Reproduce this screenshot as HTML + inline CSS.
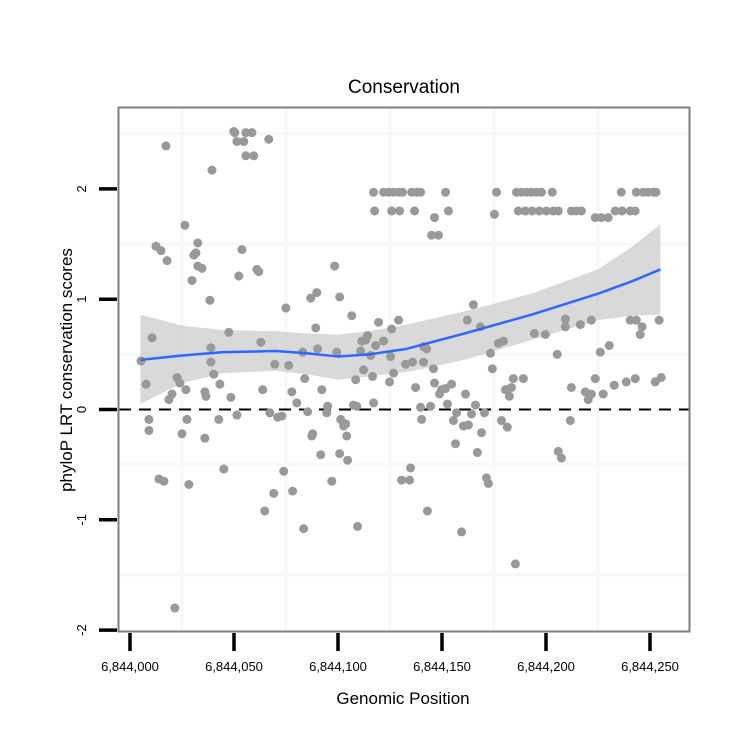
<!DOCTYPE html>
<html><head><meta charset="utf-8"><style>
body{margin:0;background:#fff;}
svg{display:block;font-family:"Liberation Sans",sans-serif;}
</style></head><body>
<svg id="chart" width="750" height="750">
<rect x="0" y="0" width="750" height="750" fill="#fff"/>
<g id="grid"></g>
<g id="band"></g>
<g id="zero"></g>
<g id="pts"></g>
<g id="smooth"></g>
<rect x="118.5" y="107.5" width="571" height="524" fill="none" stroke="#7f7f7f" stroke-width="2"/>
<g id="axes"></g>
<text x="404" y="93" font-size="19" text-anchor="middle">Conservation</text>
<text x="403" y="704" font-size="17" text-anchor="middle">Genomic Position</text>
<text transform="translate(72,370) rotate(-90)" font-size="17" text-anchor="middle">phyloP LRT conservation scores</text>
</svg>
<script>
const xTicks=[0,50,100,150,200,250];
const xTickLabels=["6,844,000","6,844,050","6,844,100","6,844,150","6,844,200","6,844,250"];
const yTicks=[2,1,0,-1,-2];
const yTickLabels=["2","1","0","-1","-2"];
const ptPos=[5.3,7.7,9.1,9.1,10.6,12.5,14.9,13.9,16.3,17.3,17.8,18.7,20.2,21.6,22.6,24.0,25.0,26.4,26.9,27.4,28.3,29.8,30.7,31.7,32.6,32.6,34.6,36.0,36.5,36.0,38.4,38.9,39.4,38.9,40.3,42.7,43.2,45.1,47.5,48.5,49.9,51.4,51.4,52.3,53.8,50.4,55.7,58.6,54.7,55.7,59.5,66.7,61.0,61.9,62.9,63.8,64.8,67.2,69.1,69.6,71.0,73.0,73.9,74.9,76.3,77.8,83.5,78.2,80.2,83.0,84.0,85.4,86.9,87.4,89.8,87.8,89.3,90.2,91.7,92.2,94.6,95.0,97.0,98.4,99.4,100.8,100.8,101.3,102.7,103.7,104.2,104.6,106.6,107.5,108.5,109.0,109.4,110.9,111.4,112.3,113.3,114.2,115.7,116.6,117.1,118.1,119.5,121.9,124.8,125.3,125.8,126.7,
144.5,140.2,149.8,154.6,161.3,157.0,166.1,164.2,170.4,160.3,162.7,169.0,167.0,178.6,181.4,180.5,183.4,182.4,184.3,189.1,174.2,173.3,177.1,179.5,165.1,162.2,168.5,194.4,199.7,205.4,209.3,209.3,216.5,221.8,226.1,230.4,212.2,211.7,223.7,218.9,221.8,220.3,227.5,232.8,238.6,242.9,252.5,255.4,240.5,243.4,246.2,245.3,254.4,205.9,207.4,171.4,172.3,143.0,159.4,185.3,134.9,130.6,134.4,132.5,141.1,129.1,135.8,137.3,139.7,141.1,142.6,146.4,145.9,148.8,151.7,152.6,155.5,156.5,
117.1,121.9,124.3,126.7,129.1,131.0,135.4,137.8,139.7,151.7,176.2,185.8,188.2,190.6,193.0,195.4,197.8,203.0,236.2,243.4,246.7,249.1,251.5,252.9,
117.6,125.8,129.6,136.8,153.1,186.7,190.1,193.4,196.8,200.2,203.5,205.9,212.2,214.6,217.0,233.3,236.6,240.5,242.9,
146.4,175.2,223.7,226.6,229.9,145.0,148.3];
const ptVal=[.44,.23,-.19,-.09,.65,1.48,1.44,-.63,-.65,2.39,1.35,.09,.14,-1.80,.29,.24,-.22,1.67,.18,-.09,-.68,1.17,1.40,1.42,1.51,1.30,1.28,.16,.12,-.26,.99,.56,2.17,.43,.32,-.09,.23,-.54,.70,.11,2.52,2.43,-.05,1.21,1.45,2.51,2.51,2.51,2.43,2.30,2.30,2.45,1.27,1.25,.61,.18,-.92,-.03,-.76,.41,-.07,-.06,-.56,.92,.40,.16,-1.08,-.74,.06,.52,.28,-.02,1.01,-.24,1.06,-.22,.74,.55,-.41,.18,-.03,.03,-.65,1.30,.52,1.02,-.40,-.09,-.15,-.13,-.24,-.46,.85,.04,.27,.03,-1.06,.53,.62,.36,.63,.67,.49,.30,.06,.58,.79,.62,.25,.48,.73,.33,
.03,-.09,.18,.23,.14,-.03,.04,-.04,-.03,-.15,-.14,-.21,-.39,-.10,-.16,.18,.20,.12,.28,.28,.37,.51,.60,.62,.95,.81,.75,.69,.68,.50,.82,.75,.77,.81,.52,.58,.20,-.10,.28,.16,.14,.09,.14,.22,.25,.28,.25,.29,.81,.81,.75,.68,.81,-.38,-.44,-.62,-.67,-.92,-1.11,-1.40,-.53,-.64,-.64,.41,.57,.81,.43,.20,.02,.43,.55,.24,.37,.14,.19,.05,-.10,-.31,
1.97,1.97,1.97,1.97,1.97,1.97,1.97,1.97,1.97,1.97,1.97,1.97,1.97,1.97,1.97,1.97,1.97,1.97,1.97,1.97,1.97,1.97,1.97,1.97,
1.80,1.80,1.80,1.80,1.80,1.80,1.80,1.80,1.80,1.80,1.80,1.80,1.80,1.80,1.80,1.80,1.80,1.80,1.80,
1.74,1.77,1.74,1.74,1.74,1.58,1.58];
const fitPos=[5,25,45,70,85,100,115,133,161,193,225,241,255];
const fitMid=[.45,.49,.52,.53,.51,.48,.50,.55,.69,.86,1.05,1.16,1.27];
const fitUpper=[.86,.76,.72,.71,.69,.68,.71,.77,.89,1.05,1.27,1.47,1.68];
const fitLower=[.05,.24,.33,.35,.32,.27,.30,.34,.45,.63,.81,.85,.86];

const NS="http://www.w3.org/2000/svg";
const X=p=>130+p*2.08;
const Y=v=>409.5-v*110.3;
function mk(tag,attrs,parent){const e=document.createElementNS(NS,tag);for(const k in attrs)e.setAttribute(k,attrs[k]);parent.appendChild(e);return e;}
const grid=document.getElementById('grid');
[-1.5,-0.5,0.5,1.5,2.5].forEach(v=>{const l=mk('line',{x1:119,x2:689,y1:Y(v),y2:Y(v),stroke:'#f7f7f7','stroke-width':3},grid);

});
[25,75,125,175,225].forEach(p=>{const l=mk('line',{x1:X(p),x2:X(p),y1:108,y2:631,stroke:'#f7f7f7','stroke-width':3},grid);

});
let d='M'+fitPos.map((p,i)=>X(p)+','+Y(fitUpper[i])).join('L');
for(let i=fitPos.length-1;i>=0;i--)d+='L'+X(fitPos[i])+','+Y(fitLower[i]);
const band=mk('path',{d:d+'Z',fill:'#cccccc','fill-opacity':0.75},document.getElementById('band'));


const z=mk('line',{x1:119,x2:689,y1:Y(0),y2:Y(0),stroke:'#000','stroke-width':2,'stroke-dasharray':'12 8'},document.getElementById('zero'));


const pts=document.getElementById('pts');
ptPos.forEach((p,i)=>{const c=mk('circle',{cx:X(p),cy:Y(ptVal[i]),r:4.5,fill:'#999'},pts);

});
const ln=mk('path',{d:'M'+fitPos.map((p,i)=>X(p)+','+Y(fitMid[i])).join('L'),fill:'none',stroke:'#3366ff','stroke-width':2.5,'stroke-linejoin':'round'},document.getElementById('smooth'));


const axes=document.getElementById('axes');
xTicks.forEach((t,i)=>{const l=mk('line',{x1:X(t),x2:X(t),y1:633,y2:651,stroke:'#000','stroke-width':3.5},axes);


const tx=mk('text',{x:X(t),y:671,'font-size':13,'text-anchor':'middle'},axes);tx.textContent=xTickLabels[i];

});
yTicks.forEach((t,i)=>{const l=mk('line',{x1:99,x2:117,y1:Y(t),y2:Y(t),stroke:'#000','stroke-width':3.5},axes);


const tx=mk('text',{transform:'translate(86,'+Y(t)+') rotate(-90)','font-size':13,'text-anchor':'middle'},axes);tx.textContent=yTickLabels[i];

});
</script>
</body></html>
